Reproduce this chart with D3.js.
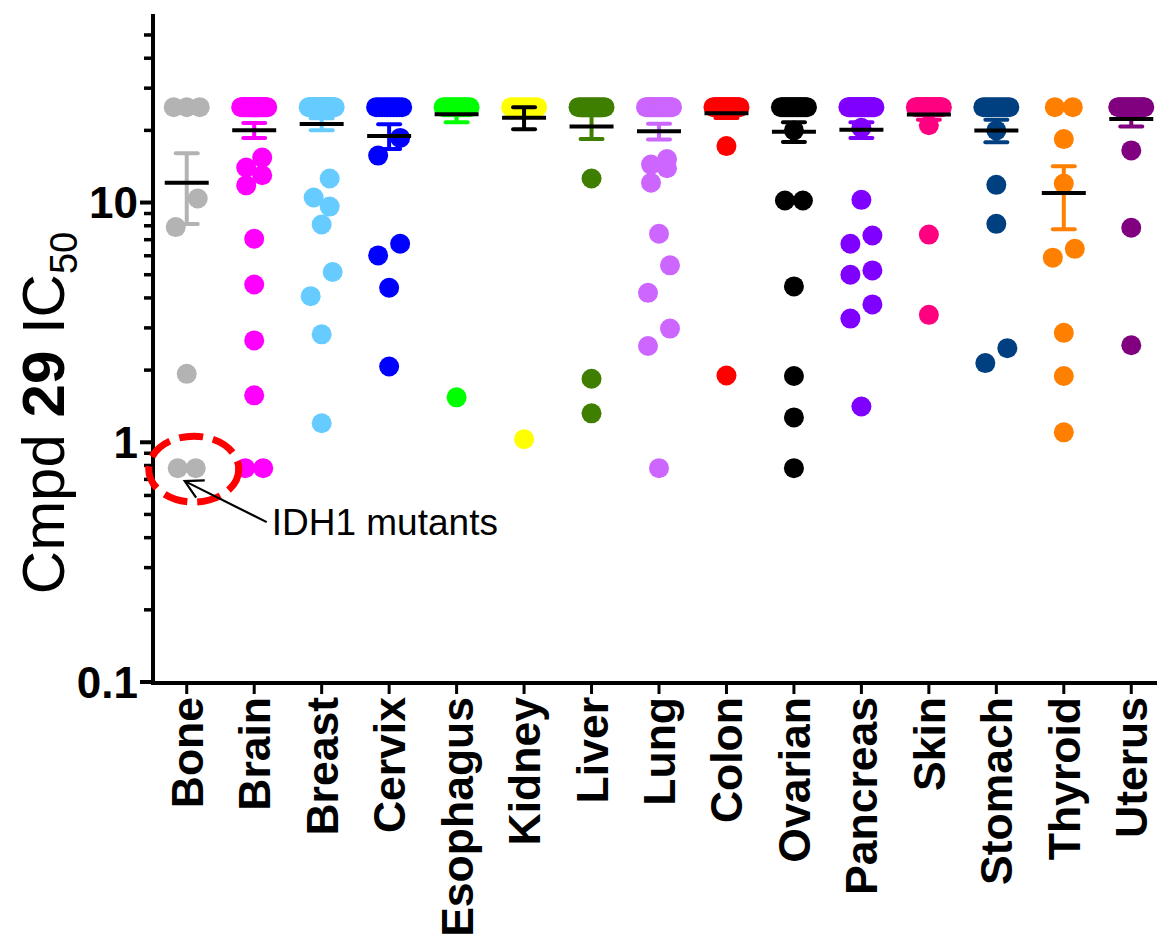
<!DOCTYPE html>
<html>
<head>
<meta charset="utf-8">
<script src="https://cdn.jsdelivr.net/npm/d3@7"></script>
<style>
  html, body { margin: 0; padding: 0; background: #fff; }
  svg { display: block; font-family: Arial, "Liberation Sans", sans-serif; }
</style>
</head>
<body>
<div id="chart"></div>
<script>
const width = 1157;
const height = 940;

const categories = ["Bone", "Brain", "Breast", "Cervix", "Esophagus", "Kidney", "Liver", "Lung",
                    "Colon", "Ovarian", "Pancreas", "Skin", "Stomach", "Thyroid", "Uterus"];
const colors = ["#b3b3b3", "#ff00ff", "#66ccff", "#0000ff", "#00ff00", "#ffff00", "#3f7f00", "#cc66ff",
                "#ff0000", "#000000", "#8000ff", "#ff0080", "#004080", "#ff8000", "#800080"];

// IC50 values per cell line (uM); 25 = top of tested range
const bone = [25, 25, 25, 10.4, 7.9, 1.93, 0.78, 0.78];
const brain = [25, 25, 25, 25, 25, 25, 25, 25, 25, 25, 25, 25, 25, 25, 25, 25, 25, 25, 25, 25, 25, 25, 25, 25, 25, 25,
               15.4, 14.0, 13.0, 11.8, 7.06, 4.55, 2.66, 1.57, 0.78, 0.78];
const breast = [25, 25, 25, 25, 25, 25, 25, 25, 25, 25, 25, 25, 25, 25, 25, 25, 25, 25, 25, 25, 25, 25, 25, 25, 25, 25, 25, 25, 25, 25, 25,
                12.6, 10.5, 9.62, 8.1, 5.13, 4.07, 2.82, 1.2];
const cervix = [25, 25, 25, 25, 25, 25, 25, 25, 25, 25, 18.6, 15.7, 6.73, 6.02, 4.41, 2.07];
const esophagus = [25, 25, 25, 25, 25, 25, 25, 25, 25, 25, 25, 25, 25, 1.54];
const kidney = [25, 25, 25, 25, 25, 25, 25, 25, 25, 1.03];
const liver = [25, 25, 25, 25, 25, 25, 25, 25, 25, 25, 25, 12.6, 1.84, 1.32];
const lung = [25, 25, 25, 25, 25, 25, 25, 25, 25, 25, 25, 25, 25, 25, 25, 25, 25, 25, 25, 25, 25, 25, 25,
              15.2, 14.4, 13.9, 12.1, 7.41, 5.47, 4.2, 2.98, 2.52, 0.78];
const colon = [25, 25, 25, 25, 25, 25, 25, 25, 25, 25, 25, 25, 25, 25, 25, 25, 25, 25, 25, 25, 17.2, 1.9];
const ovarian = [25, 25, 25, 25, 25, 25, 25, 25, 25, 25, 25, 25, 25, 25, 25, 25, 25,
                 20, 10.2, 10.2, 4.47, 1.89, 1.27, 0.78];
const pancreas = [25, 25, 25, 25, 25, 25, 25, 25, 25, 25, 25, 25, 25, 25, 25, 25, 25, 25, 25, 25, 25, 25, 25, 25,
                  20.5, 10.26, 7.29, 6.73, 5.21, 5.0, 3.76, 3.28, 1.41];
const skin = [25, 25, 25, 25, 25, 25, 25, 25, 25, 25, 25, 25, 25, 25, 25, 25, 25, 25, 25, 25, 25, 25, 21, 7.35, 3.4];
const stomach = [25, 25, 25, 25, 25, 25, 25, 25, 25, 25, 25, 20, 11.85, 8.15, 2.47, 2.14];
const thyroid = [25, 25, 18.4, 12.0, 6.41, 5.89, 2.86, 1.89, 1.1];
const uterus = [25, 25, 25, 25, 25, 25, 25, 25, 25, 25, 25, 25, 25, 25, 25, 16.5, 7.85, 2.54];

const series = [bone, brain, breast, cervix, esophagus, kidney, liver, lung,
                colon, ovarian, pancreas, skin, stomach, thyroid, uterus];

const yTicks = [0.1, 1, 10];
const yTickLabels = ["0.1", "1", "10"];

const x = d3.scaleBand().domain(categories).range([153, 1165]).padding(0);
const y = d3.scaleLog().domain([0.1, 60]).range([682, 16]);

const svg = d3.select("#chart").append("svg")
    .attr("width", width)
    .attr("height", height);
svg.append("rect").attr("width", width).attr("height", height).attr("fill", "#fff");

const r = 10;

// spread points horizontally a bit like a column scatter
const layoutColumn = vals => {
    const pts = vals.map(v => ({v, y: y(v), dx: 0}));
    const singles = [];
    d3.groups(pts, d => d.v).forEach(([v, g]) => {
        if (g.length > 1) {
            const w = Math.min(9 * (g.length - 1), 13);
            g.forEach((p, i) => { p.dx = -w + 2 * w * i / (g.length - 1); });
        } else singles.push(g[0]);
    });
    singles.sort((a, b) => a.y - b.y);
    let cluster = [];
    const flush = () => {
        const m = cluster.length;
        if (m === 2) {
            cluster[0].dx = 11;
            cluster[1].dx = -11;
        } else if (m > 2) {
            cluster.forEach((p, i) => { p.dx = (i % 2 ? -1 : 1) * 8; });
        }
        cluster = [];
    };
    singles.forEach(p => {
        if (cluster.length && p.y - cluster[0].y >= 30) flush();
        cluster.push(p);
    });
    flush();
    return pts;
};

const luminance = c => {
    const {r, g, b} = d3.rgb(c);
    return (0.2126 * r + 0.7152 * g + 0.0722 * b) / 255;
};

const stats = series.map(vals => {
    const mean = d3.mean(vals);
    const sem = d3.deviation(vals) / Math.sqrt(vals.length);
    return {mean, sem};
});

// dots
const cols = svg.append("g").selectAll("g")
    .data(categories)
    .join("g");

cols.each(function(cat, i) {
    const cx = x(cat) + x.bandwidth() / 2;
    d3.select(this).selectAll("circle")
        .data(layoutColumn(series[i]))
        .join("circle")
        .attr("cx", d => cx + d.dx)
        .attr("cy", d => d.y)
        .attr("r", r)
        .attr("fill", colors[i]);
});

// error bars (mean +/- SEM) and mean line
cols.each(function(cat, i) {
    const cx = x(cat) + x.bandwidth() / 2;
    const {mean, sem} = stats[i];
    const c = luminance(colors[i]) > 0.8 ? "#000" : colors[i];
    const g = d3.select(this).append("g").attr("stroke", c);
    g.append("line")
        .attr("x1", cx).attr("x2", cx)
        .attr("y1", y(mean + sem)).attr("y2", y(mean - sem))
        .attr("stroke-width", 4);
    g.selectAll(".cap")
        .data([mean + sem, mean - sem])
        .join("line")
        .attr("class", "cap")
        .attr("x1", cx - 11).attr("x2", cx + 11)
        .attr("y1", d => y(d)).attr("y2", d => y(d))
        .attr("stroke-width", 4)
        .attr("stroke-linecap", "round");
    d3.select(this).append("line")
        .attr("x1", cx - 22).attr("x2", cx + 22)
        .attr("y1", y(mean)).attr("y2", y(mean))
        .attr("stroke", "#000")
        .attr("stroke-width", 4);
});

// y axis
const yAxis = svg.append("g");
yAxis.append("line")
    .attr("x1", 153).attr("x2", 153)
    .attr("y1", 14).attr("y2", 684)
    .attr("stroke", "#000").attr("stroke-width", 4);

const minor = [];
[0.1, 1, 10].forEach(dec => d3.range(2, 10).forEach(k => {
    const v = dec * k;
    if (v < 60) minor.push(v);
}));
yAxis.selectAll(".minor")
    .data(minor)
    .join("line")
    .attr("class", "minor")
    .attr("x1", 144).attr("x2", 153)
    .attr("y1", d => y(d)).attr("y2", d => y(d))
    .attr("stroke", "#000").attr("stroke-width", 3.5);
yAxis.selectAll(".major")
    .data(yTicks)
    .join("line")
    .attr("class", "major")
    .attr("x1", 140).attr("x2", 153)
    .attr("y1", d => y(d)).attr("y2", d => y(d))
    .attr("stroke", "#000").attr("stroke-width", 4);
yAxis.selectAll("text")
    .data(yTicks)
    .join("text")
    .attr("x", 138)
    .attr("y", d => y(d))
    .attr("dy", "0.36em")
    .attr("text-anchor", "end")
    .attr("font-size", 44)
    .attr("font-weight", "bold")
    .text((d, i) => yTickLabels[i]);

const title = svg.append("text")
    .attr("transform", "translate(64,413) rotate(-90)")
    .attr("text-anchor", "middle")
    .attr("font-size", 60);
title.append("tspan").text("Cmpd ");
title.append("tspan").attr("font-weight", "bold").text("29");
title.append("tspan").text(" IC");
title.append("tspan").attr("font-size", 38).attr("dy", 13).text("50");

// x axis
const xAxis = svg.append("g");
xAxis.append("line")
    .attr("x1", 151).attr("x2", width)
    .attr("y1", 683).attr("y2", 683)
    .attr("stroke", "#000").attr("stroke-width", 4);
xAxis.selectAll(".tick")
    .data(categories)
    .join("line")
    .attr("class", "tick")
    .attr("x1", d => x(d) + x.bandwidth() / 2).attr("x2", d => x(d) + x.bandwidth() / 2)
    .attr("y1", 683).attr("y2", 694)
    .attr("stroke", "#000").attr("stroke-width", 3);
xAxis.selectAll("text")
    .data(categories)
    .join("text")
    .attr("transform", d => `translate(${x(d) + x.bandwidth() / 2},697) rotate(-90)`)
    .attr("dy", "0.36em")
    .attr("text-anchor", "end")
    .attr("font-size", 44.5)
    .attr("font-weight", "bold")
    .text(d => d);

// IDH1 annotation
const bx = x("Bone") + x.bandwidth() / 2;
const by = y(0.78);
const note = svg.append("g");
note.append("ellipse")
    .attr("cx", bx + 7).attr("cy", by + 1)
    .attr("rx", 45).attr("ry", 33)
    .attr("fill", "none")
    .attr("stroke", "#ff0000")
    .attr("stroke-width", 7)
    .attr("stroke-dasharray", "24 10");

const tip = [bx - 2, by + 13];
const tail = [bx + 80, by + 54];
const ang = Math.atan2(tail[1] - tip[1], tail[0] - tip[0]);
const arm = a => [tip[0] + 20 * Math.cos(ang + a), tip[1] + 20 * Math.sin(ang + a)];
note.append("path")
    .attr("d", d3.line()([tail, tip]))
    .attr("stroke", "#000").attr("stroke-width", 2.2).attr("fill", "none");
note.append("path")
    .attr("d", d3.line()([arm(-0.5), tip, arm(0.5)]))
    .attr("stroke", "#000").attr("stroke-width", 2.2).attr("fill", "none");
note.append("text")
    .attr("x", bx + 85)
    .attr("y", by + 67)
    .attr("font-size", 37)
    .text("IDH1 mutants");
</script>
</body>
</html>
